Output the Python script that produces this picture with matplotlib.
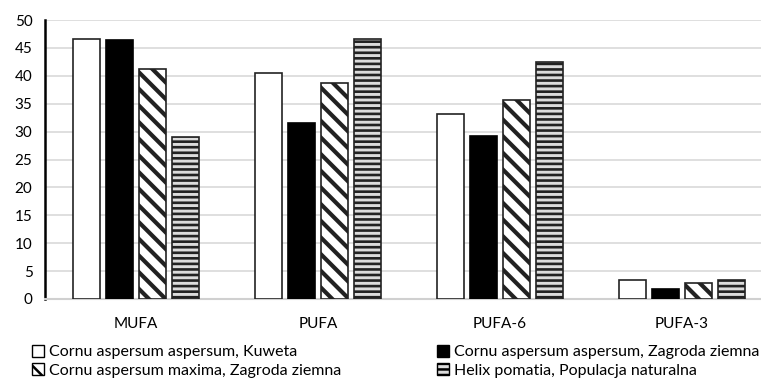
import matplotlib
matplotlib.use("Agg")
import matplotlib.pyplot as plt
import numpy as np
from matplotlib.patches import Patch

plt.rcParams['font.family'] = ['Lato', 'DejaVu Sans']
plt.rcParams['hatch.color'] = 'black'
plt.rcParams['hatch.linewidth'] = 3.0

categories = ["MUFA", "PUFA", "PUFA-6", "PUFA-3"]
series_names = [
    "Cornu aspersum aspersum, Kuweta",
    "Cornu aspersum aspersum, Zagroda ziemna",
    "Cornu aspersum maxima, Zagroda ziemna",
    "Helix pomatia, Populacja naturalna",
]
kuweta = [46.6, 40.5, 33.1, 3.4]
zagroda = [46.5, 31.5, 29.2, 1.8]
maxima = [41.2, 38.7, 35.7, 2.8]
helix = [29.0, 46.6, 42.5, 3.4]
yticks = [0, 5, 10, 15, 20, 25, 30, 35, 40, 45, 50]

W, H = 761, 379
fig = plt.figure(figsize=(W / 100, H / 100), dpi=100)
ax = fig.add_axes([45 / W, (H - 299) / H, 728 / W, 279 / H])

x = np.arange(len(categories))
step = 0.181
bw = 0.148
styles = [
    dict(facecolor='white', edgecolor='#222222', hatch=None, hlw=1.0),
    dict(facecolor='black', edgecolor='black', hatch=None, hlw=1.0),
    dict(facecolor='white', edgecolor='#222222', hatch='\\\\', hlw=3.0),
    dict(facecolor='#dcdcdc', edgecolor='#222222', hatch='---', hlw=1.9),
]


def set_hlw(patch, lw):
    patch._hatch_linewidth = lw
    if hasattr(patch, 'set_hatch_linewidth'):
        patch.set_hatch_linewidth(lw)


data = [kuweta, zagroda, maxima, helix]
for i, (vals, st) in enumerate(zip(data, styles)):
    plt.rcParams['hatch.linewidth'] = st['hlw']
    bars = ax.bar(x + (i - 1.5) * step, vals, width=bw, facecolor=st['facecolor'],
                  edgecolor=st['edgecolor'], hatch=st['hatch'], linewidth=1.2, zorder=3)
    for b in bars:
        set_hlw(b, st['hlw'])

ax.set_xlim(-0.5, 3.5)
ax.set_ylim(0, 50)
ax.set_yticks(yticks)
ax.set_yticklabels([str(t) for t in yticks], fontsize=11)
ax.set_xticks(x)
ax.set_xticklabels(categories, fontsize=11)
ax.yaxis.grid(True, color='#d9d9d9', linewidth=1.2, zorder=0)
ax.set_axisbelow(True)
for s in ['top', 'right']:
    ax.spines[s].set_visible(False)
ax.spines['left'].set_color('black')
ax.spines['left'].set_linewidth(1.8)
ax.spines['bottom'].set_color('#d0d0d0')
ax.spines['bottom'].set_linewidth(1.5)
ax.tick_params(axis='y', length=0, pad=9)
ax.tick_params(axis='x', length=0, pad=13)

handles = []
for st, name in zip(styles, series_names):
    h = Patch(facecolor=st['facecolor'], edgecolor='black',
              hatch=st['hatch'], linewidth=1.0, label=name)
    handles.append(h)
order = [0, 2, 1, 3]
leg = fig.legend(handles=[handles[k] for k in order], ncol=2, loc='upper left',
                 bbox_to_anchor=(32 / W, 1 - 345 / H), frameon=False,
                 fontsize=11.5, handlelength=0.75, handleheight=0.75,
                 handletextpad=0.3, columnspacing=6.0, labelspacing=0.25,
                 borderpad=0, borderaxespad=0)
for hp, k in zip(leg.get_patches(), order):
    set_hlw(hp, min(styles[k]['hlw'], 1.8))

fig.savefig("out.png", dpi=100)
